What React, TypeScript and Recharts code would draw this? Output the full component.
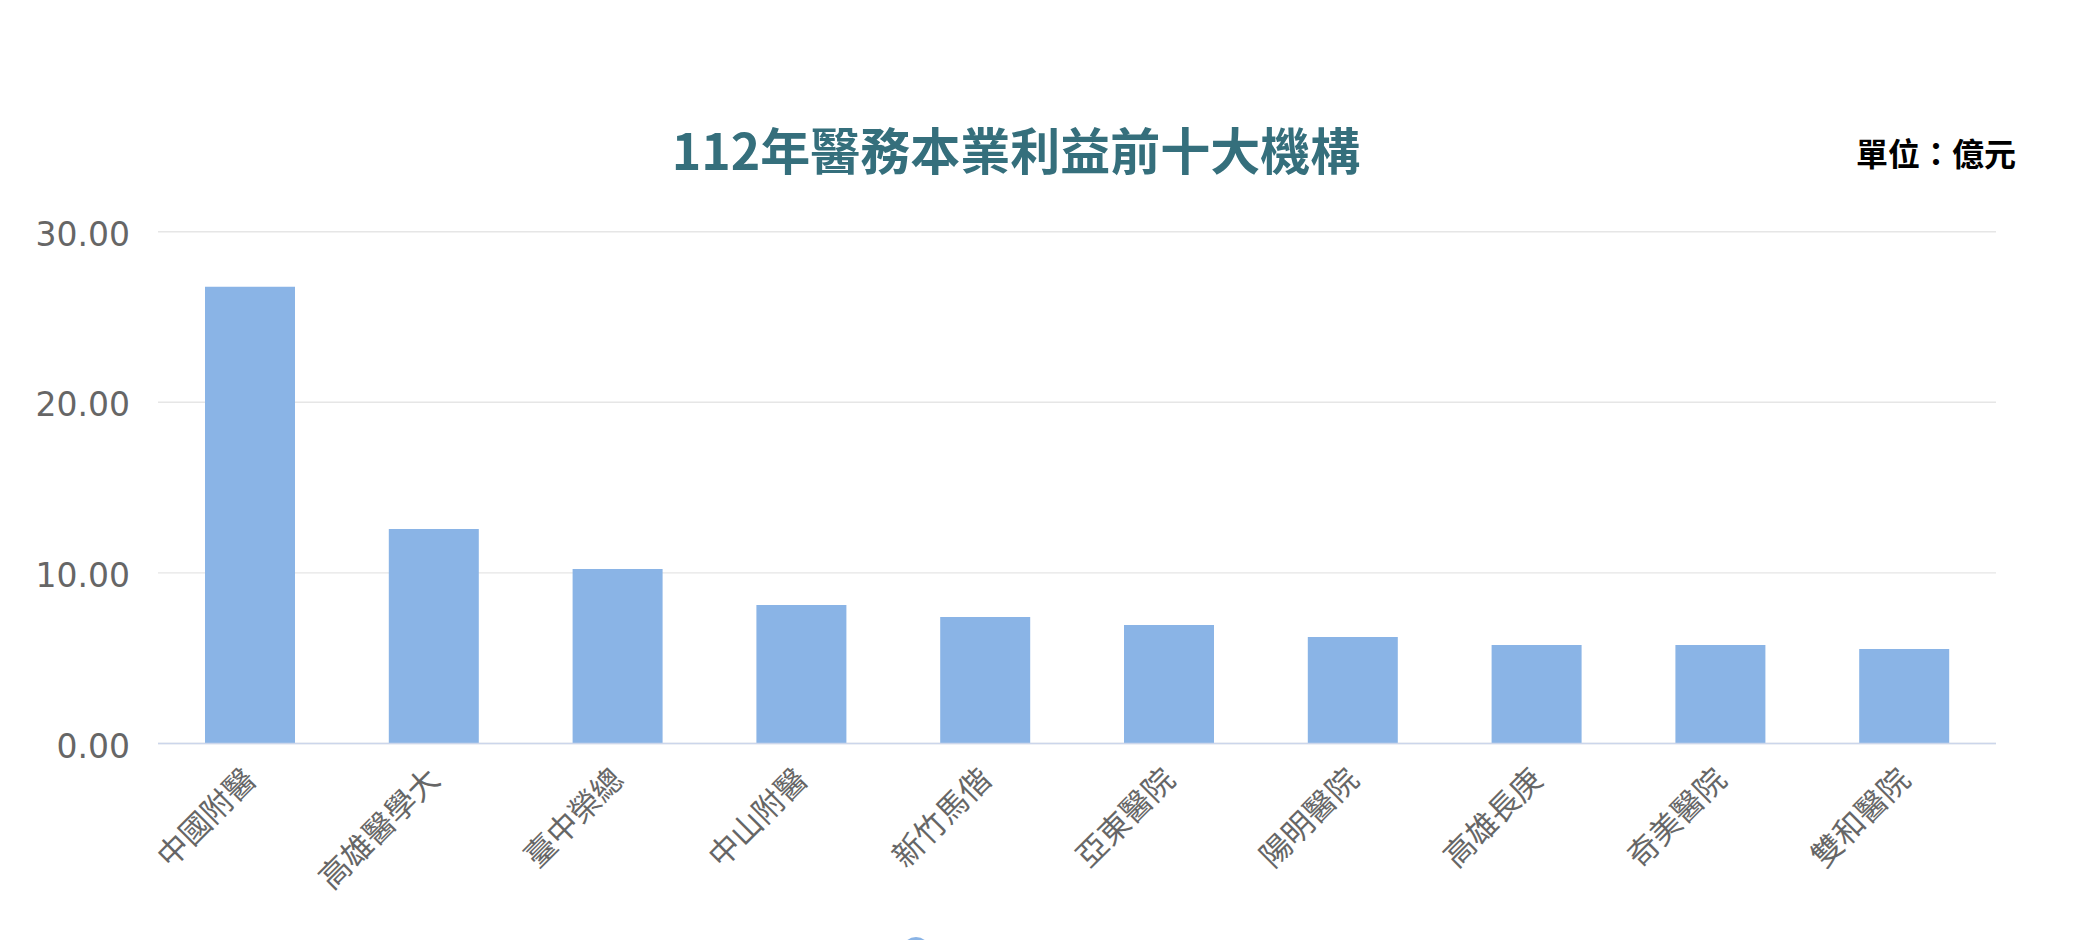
import React from "react";
import {
  BarChart,
  Bar,
  XAxis,
  YAxis,
  CartesianGrid,
  Legend,
} from "recharts";

const hospitals = [
  "中國附醫",
  "高雄醫學大",
  "臺中榮總",
  "中山附醫",
  "新竹馬偕",
  "亞東醫院",
  "陽明醫院",
  "高雄長庚",
  "奇美醫院",
  "雙和醫院",
];
const profits = [26.78, 12.57, 10.23, 8.12, 7.41, 6.95, 6.24, 5.77, 5.77, 5.54];
const yTicks = [0, 10, 20, 30];

const seriesName = "醫務本業利益";
const barColor = "#8ab4e6";
const labelFont = '"DejaVu Sans", "Noto Sans CJK TC", sans-serif';

const data = hospitals.map((name, i) => ({ name, value: profits[i] }));

const XTick = (props: any) => {
  const { x, y, payload } = props;
  const ax = x + 8;
  const ay = y + 38;
  return (
    <text
      x={ax}
      y={ay}
      transform={`rotate(-45 ${ax} ${ay})`}
      textAnchor="end"
      fill="#666666"
      fontSize={31}
      fontFamily={labelFont}
    >
      {payload.value}
    </text>
  );
};

const YTick = (props: any) => {
  const { y, payload } = props;
  return (
    <text
      x={130}
      y={y + 14}
      textAnchor="end"
      fill="#666666"
      fontSize={33}
      fontFamily={labelFont}
    >
      {Number(payload.value).toFixed(2)}
    </text>
  );
};

// only the top of the legend symbol shows at the bottom edge of the page
const LegendContent = () => (
  <svg width={30} height={30} aria-label={seriesName}>
    <circle cx={15} cy={15} r={14} fill={barColor} />
  </svg>
);

export default function App() {
  return (
    <div
      style={{
        position: "absolute",
        left: 0,
        top: 0,
        width: 2096,
        height: 940,
        overflow: "hidden",
        background: "#ffffff",
      }}
    >
      <div
        style={{
          position: "absolute",
          left: 0,
          width: 2032,
          top: 118,
          textAlign: "center",
          fontFamily: '"Noto Sans CJK TC", sans-serif',
          fontWeight: 700,
          fontSize: 50,
          lineHeight: "60px",
          color: "#356f7c",
        }}
      >
        112年醫務本業利益前十大機構
      </div>
      <div
        style={{
          position: "absolute",
          left: 1856,
          top: 133,
          fontFamily: '"Noto Sans CJK TC", sans-serif',
          fontWeight: 700,
          fontSize: 32,
          lineHeight: "38px",
          color: "#000000",
          whiteSpace: "nowrap",
        }}
      >
        單位：億元
      </div>
      <BarChart
        width={2096}
        height={1000}
        data={data}
        margin={{ top: 231.7, right: 100, left: 0, bottom: 56.5 }}
      >
        <CartesianGrid
          vertical={false}
          stroke="#e6e6e6"
          strokeWidth={1.4}
        />
        <XAxis
          dataKey="name"
          height={200}
          interval={0}
          tickLine={false}
          tickSize={0}
          tickMargin={0}
          axisLine={{ stroke: "#ccd6eb", strokeWidth: 1.6 }}
          tick={<XTick />}
        />
        <YAxis
          width={158}
          domain={[0, 30]}
          ticks={yTicks}
          axisLine={false}
          tickLine={false}
          tick={<YTick />}
        />
        <Legend
          layout="horizontal"
          verticalAlign="middle"
          align="center"
          content={<LegendContent />}
          wrapperStyle={{
            left: 901,
            top: 936,
            bottom: "auto",
            width: 30,
            height: 30,
          }}
        />
        <Bar
          dataKey="value"
          name={seriesName}
          fill={barColor}
          barSize={90}
          isAnimationActive={false}
        />
      </BarChart>
    </div>
  );
}
